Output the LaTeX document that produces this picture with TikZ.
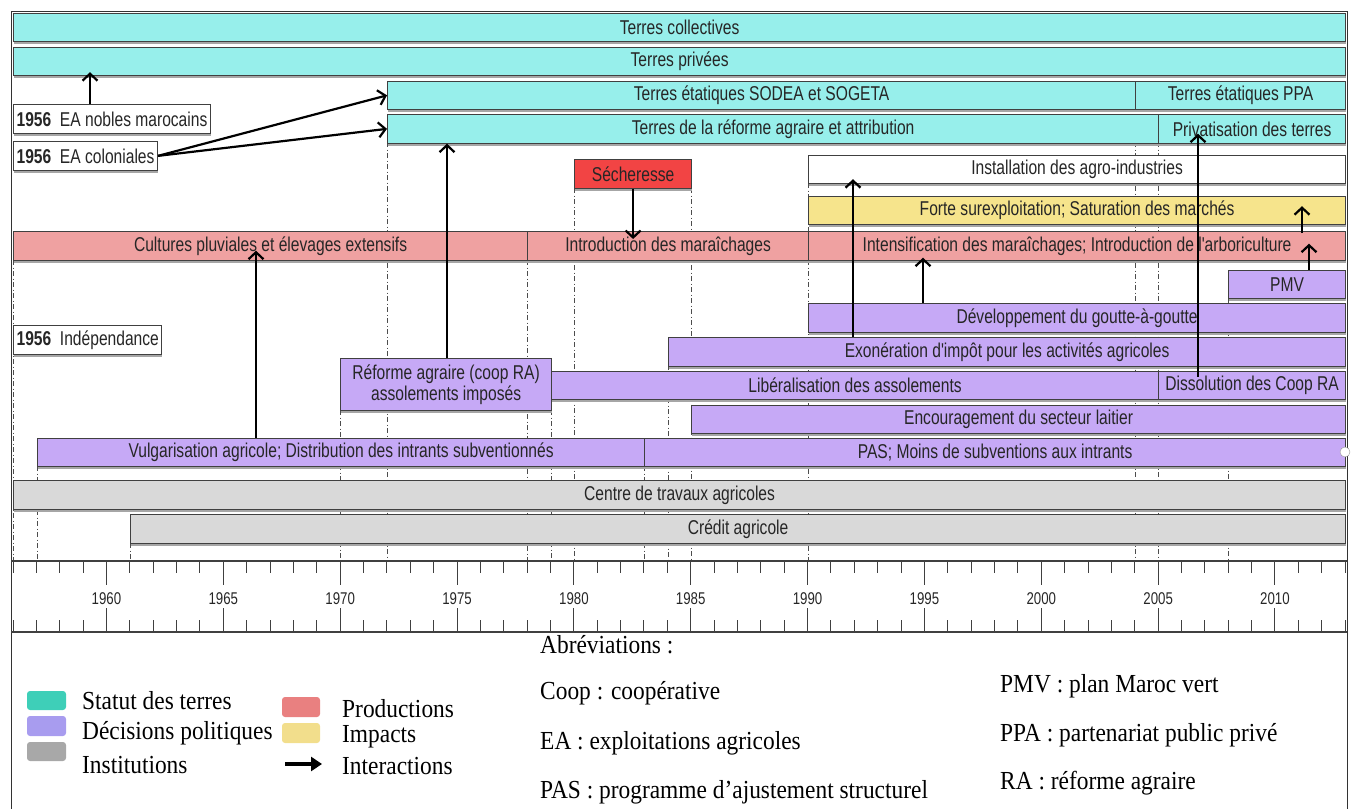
\documentclass[tikz,border=0pt]{standalone}
\usepackage{fontspec}
\usetikzlibrary{arrows.meta,shadows}
\newfontfamily\barfont[FakeStretch=0.78]{Liberation Sans}
\newfontfamily\legfont[FakeStretch=0.9]{Liberation Serif}
\definecolor{landcol}{HTML}{97EFEB}
\definecolor{prodcol}{HTML}{EFA1A1}
\definecolor{policol}{HTML}{C6A9F6}
\definecolor{impcol}{HTML}{F6E48C}
\definecolor{instcol}{HTML}{D9D9D9}
\definecolor{droughtcol}{HTML}{F24444}
\definecolor{legland}{HTML}{3ECFB8}
\definecolor{legpoli}{HTML}{A89CEF}
\definecolor{leginst}{HTML}{A8A8A8}
\definecolor{legprod}{HTML}{E98080}
\definecolor{legimp}{HTML}{F2DE8C}
\tikzset{
  bar/.style={draw=black!75, line width=1.2pt, inner sep=0pt, minimum height=28.5pt,
    anchor=north west, text=black!85, font=\barfont\fontsize{20}{21}\selectfont,
    drop shadow={shadow xshift=0.5pt, shadow yshift=-2.5pt, fill=black!35, opacity=1}},
  event/.style={bar, fill=white, inner xsep=3pt},
  guide/.style={black!70, line width=0.8pt, dash pattern=on 5pt off 2.5pt on 1pt off 2.5pt},
  interaction/.style={-{Straight Barb[length=7pt,width=15pt]}, line width=2.2pt, black},
  axisline/.style={black!75, line width=1pt},
  yearlbl/.style={text=black!85, font=\barfont\fontsize{17}{18}\selectfont},
  swatch/.style={rounded corners=3pt, draw=none},
  legtext/.style={anchor=west, inner sep=0pt, font=\legfont\fontsize{26}{28}\selectfont}
}

\begin{document}
\begin{tikzpicture}[x=1pt,y=-1pt]
	\useasboundingbox (0,0) rectangle (1353,809);
	%%%%% FRAME %%%%%
	\draw[black!80, line width=1pt] (11,812) -- (11,11) -- (1347,11) -- (1347,812);
	
	%%%%% GUIDES %%%%%
	\foreach \gx/\gy in {13/260, 37/466, 130/543, 340/410, 387/142, 527/260, 551/410, 574/188,
		644/466, 668/365, 691/188, 808/183, 1135/142, 1158/142, 1228/298}
		\draw[guide] (\gx,\gy) -- (\gx,561);
	
	%%%%% LAND STATUS %%%%%
	\node[bar, fill=landcol, minimum width=1332pt] (coll) at (13,12.5) {Terres collectives};
	\node[bar, fill=landcol, minimum width=1332pt] (prive) at (13,46.5) {Terres privées};
	\node[bar, fill=landcol, minimum width=748pt] (sodea) at (387,80.5) {Terres étatiques SODEA et SOGETA};
	\node[bar, fill=landcol, minimum width=210pt] (ppa) at (1135,80.5) {Terres étatiques PPA};
	\node[bar, fill=landcol, minimum width=771pt] (reforme) at (387,114) {Terres de la réforme agraire et attribution};
	\node[bar, fill=landcol, minimum width=187pt] (privat) at (1158,114) {Privatisation des terres};
	
	\node[event] (nobles) at (13,104) {\textbf{1956}\ \ EA nobles marocains};
	\node[event] (colon) at (13,141) {\textbf{1956}\ \ EA coloniales};
	\node[event] (indep) at (13,325) {\textbf{1956}\ \ Indépendance};
	
	%%%%% IMPACTS %%%%%
	\node[bar, fill=droughtcol, minimum width=117pt] (sech) at (574,159) {Sécheresse};
	\node[bar, fill=white, minimum width=537pt] (agro) at (808,154.5) {Installation des agro-industries};
	\node[bar, fill=impcol, minimum width=537pt] (forte) at (808,195.5) {Forte surexploitation; Saturation des marchés};
	
	%%%%% PRODUCTIONS %%%%%
	\node[bar, fill=prodcol, minimum width=514pt] (cult) at (13,231) {Cultures pluviales et élevages extensifs};
	\node[bar, fill=prodcol, minimum width=281pt] (intro) at (527,231) {Introduction des maraîchages};
	\node[bar, fill=prodcol, minimum width=537pt] (intens) at (808,231) {Intensification des maraîchages; Introduction de l'arboriculture};
	
	%%%%% POLICY %%%%%
	\node[bar, fill=policol, minimum width=117pt] (pmv) at (1228,269.5) {PMV};
	\node[bar, fill=policol, minimum width=537pt] (dev) at (808,303) {Développement du goutte-à-goutte};
	\node[bar, fill=policol, minimum width=677pt] (exo) at (668,337) {Exonération d'impôt pour les activités agricoles};
	\node[bar, fill=policol, minimum width=211pt, minimum height=52pt, align=center] (rara) at (340,358)
		{Réforme agraire (coop RA)\\assolements imposés};
	\node[bar, fill=policol, minimum width=607pt] (lib) at (551,370.5) {Libéralisation des assolements};
	\node[bar, fill=policol, minimum width=187pt] (diss) at (1158,370.5) {Dissolution des Coop RA};
	\node[bar, fill=policol, minimum width=654pt] (enc) at (691,404.5) {Encouragement du secteur laitier};
	\node[bar, fill=policol, minimum width=607pt] (vulg) at (37,437.5) {Vulgarisation agricole; Distribution des intrants subventionnés};
	\node[bar, fill=policol, minimum width=701pt] (pas) at (644,437.5) {PAS; Moins de subventions aux intrants};
	\draw[black!40, fill=white] (1345,452) circle (5);
	
	%%%%% INSTITUTIONS %%%%%
	\node[bar, fill=instcol, minimum width=1332pt] (centre) at (13,480) {Centre de travaux agricoles};
	\node[bar, fill=instcol, minimum width=1215pt] (credit) at (130,514) {Crédit agricole};
	
	%%%%% INTERACTIONS %%%%%
	\draw[interaction, shorten >=-4pt] (nobles.north -| 90,0) -- (prive.south -| 90,0);
	\draw[interaction] (colon.east) -- (sodea.west);
	\draw[interaction] (colon.east) -- (reforme.west);
	\draw[interaction] (rara.north -| 447,0) -- (reforme.south -| 447,0);
	\draw[interaction, shorten >=-8pt] (sech.south) -- (intro.north -| sech.south);
	\draw[interaction, shorten >=-10pt] (vulg.north -| 256,0) -- (cult.south -| 256,0);
	\draw[interaction, shorten >=-5pt] (exo.north -| 853,0) -- (agro.south -| 853,0);
	\draw[interaction, shorten >=-3pt] (dev.north -| 923,0) -- (intens.south -| 923,0);
	\draw[interaction, shorten <=-6pt, shorten >=-10pt] (diss.north -| 1198,0) -- (privat.south -| 1198,0);
	\draw[interaction, shorten >=-17pt] (pmv.north -| 1309,0) -- (intens.south -| 1309,0);
	\draw[interaction, shorten <=-2pt, shorten >=-19pt] (intens.north -| 1302,0) -- (forte.south -| 1302,0);
	
	%%%%% TIME AXIS %%%%%
	\draw[axisline, line width=1.3pt] (11,561) -- (1347,561);
	\draw[axisline, line width=1.3pt] (11,632) -- (1347,632);
	\foreach \i in {0,...,57}{
		\pgfmathsetmacro\tx{13+\i*23.37}
		\pgfmathsetmacro\tl{ifthenelse(mod(1956+\i,5)==0,24,12)}
		\draw[axisline] (\tx,561) -- ++(0,\tl);
		\draw[axisline] (\tx,632) -- ++(0,-\tl);
	}
	\foreach \yr in {1960,1965,...,2010}
		\node[yearlbl] (y\yr) at ({13+(\yr-1956)*23.37},599) {\yr};
	
	%%%%% LEGEND %%%%%
	\fill[swatch, legland] (27,691) rectangle (66,710);
	\fill[swatch, legpoli] (27,716) rectangle (66,736);
	\fill[swatch, leginst] (27,742) rectangle (66,761);
	\fill[swatch, legprod] (282,697) rectangle (320,717);
	\fill[swatch, legimp] (282,723) rectangle (320,743);
	\coordinate (arrA) at (285,764);
	\coordinate (arrB) at (322,764);
	\draw[-{Triangle[length=11pt,width=14pt]}, line width=4pt] (arrA) -- (arrB);
	\node[legtext] (lland) at (82,701) {Statut des terres};
	\node[legtext] (lpoli) at (82,733) {Décisions politiques};
	\node[legtext] (linst) at (82,765) {Institutions};
	\node[legtext] (lprod) at (342,709) {Productions};
	\node[legtext] (limp) at (342,737) {Impacts};
	\node[legtext] (linter) at (342,766) {Interactions};
	
	%%%%% ABBREVIATIONS %%%%%
	\node[legtext] (abbr) at (540,645) {Abréviations :};
	\node[legtext] (acoop) at (540,693) {Coop : coopérative};
	\node[legtext] (aea) at (540,743) {EA : exploitations agricoles};
	\node[legtext] (apas) at (540,792) {PAS : programme d’ajustement structurel};
	\node[legtext] (apmv) at (1000,686) {PMV : plan Maroc vert};
	\node[legtext] (appa) at (1000,735) {PPA : partenariat public privé};
	\node[legtext] (ara) at (1000,783) {RA : réforme agraire};
\end{tikzpicture}
\end{document}
